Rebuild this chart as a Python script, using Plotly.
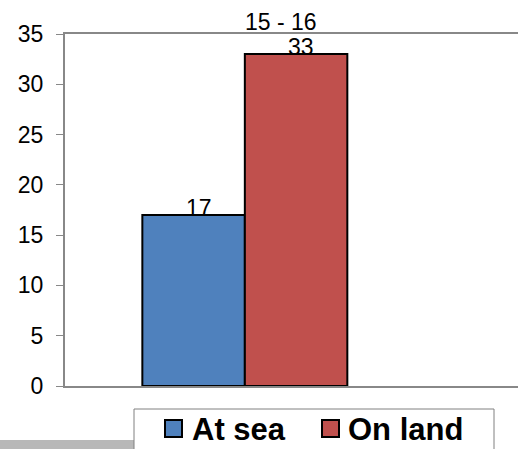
import plotly.graph_objects as go

categories = ["15 - 16"]
series_names = ["At sea", "On land"]
at_sea = [17]
on_land = [33]
series_values = [at_sea, on_land]
colors = ["#4F81BD", "#C0504D"]
y_ticks = [0, 5, 10, 15, 20, 25, 30, 35]

FONT = "Liberation Sans, Arial, sans-serif"
W, H = 518, 449
ML, MR, MT, MB = 65, 0, 34, 63
PW, PH = W - ML - MR, H - MT - MB


def px_x(px):
    return (px - ML) / PW


def px_y(py):
    return (H - MB - py) / PH


fig = go.Figure()
for name, vals, col in zip(series_names, series_values, colors):
    fig.add_trace(go.Bar(
        x=categories, y=vals, name=name,
        marker=dict(color=col, line=dict(color="black", width=2)),
        showlegend=False,
    ))

# value labels
shifts = [-51, 51]
for vals, sh in zip(series_values, shifts):
    for c, v in zip(categories, vals):
        fig.add_annotation(x=c, y=v, xref="x", yref="y", text=str(v),
                           showarrow=False, yanchor="bottom", xshift=sh + 5, yshift=-8,
                           font=dict(size=23, color="black", family=FONT))

# category label on top
for c in categories:
    fig.add_annotation(x=c, y=1, xref="x", yref="paper", text=c, showarrow=False,
                       yanchor="bottom", xshift=36, yshift=-3,
                       font=dict(size=23, color="black", family=FONT))

# grey strip bottom-left
fig.add_shape(type="rect", xref="paper", yref="paper",
              x0=px_x(0), x1=px_x(136), y0=px_y(440), y1=px_y(452),
              fillcolor="#b8b8b8", line=dict(width=0), layer="above")

# legend box (manual)
fig.add_shape(type="rect", xref="paper", yref="paper",
              x0=px_x(134), x1=px_x(494), y0=px_y(409), y1=px_y(460),
              fillcolor="white", line=dict(color="#808080", width=1), layer="above")
leg_sym_x = [165, 322]
leg_txt_x = [190, 346]
for name, col, sx, tx in zip(series_names, colors, leg_sym_x, leg_txt_x):
    fig.add_shape(type="rect", xref="paper", yref="paper",
                  x0=px_x(sx), x1=px_x(sx + 17), y0=px_y(437), y1=px_y(420),
                  fillcolor=col, line=dict(color="black", width=2), layer="above")
    fig.add_annotation(x=px_x(tx), y=px_y(429), xref="paper", yref="paper",
                       text="<b>" + name + "</b>", showarrow=False,
                       xanchor="left", yanchor="middle",
                       font=dict(size=31, color="black", family=FONT))

fig.update_layout(
    width=W, height=H,
    margin=dict(l=ML, r=MR, t=MT, b=MB, autoexpand=False),
    paper_bgcolor="white", plot_bgcolor="white",
    barmode="group", bargap=0.5475, bargroupgap=0,
    showlegend=False,
    xaxis=dict(range=[-0.397, 0.603], showticklabels=False, showline=True, mirror=True,
               linecolor="#888888", linewidth=2, showgrid=False, zeroline=False, fixedrange=True),
    yaxis=dict(range=[0, 35], tickvals=y_ticks, showline=True, linecolor="#888888", linewidth=2,
               ticks="outside", ticklen=7, tickcolor="#888888", tickwidth=1,
               showgrid=False, zeroline=False, fixedrange=True,
               tickfont=dict(size=23, color="black", family=FONT), ticklabelstandoff=8),
)

fig.write_html("out.html", config={"displayModeBar": False},
               post_script="document.body.style.margin='0';document.body.style.overflow='hidden';")
